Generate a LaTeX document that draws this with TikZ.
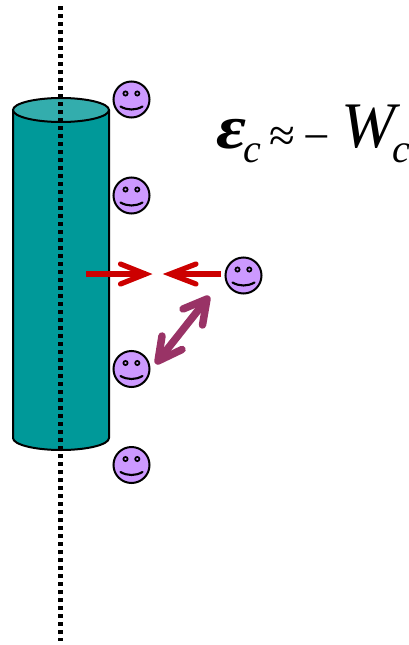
\documentclass[tikz,border=0pt]{standalone}
\usepackage{fontspec}
\usepackage{graphicx}
\setmainfont{Liberation Serif}
\usetikzlibrary{arrows.meta}
\definecolor{teal1}{HTML}{009999}
\definecolor{teal2}{HTML}{33ADAD}
\definecolor{lilac}{HTML}{CC99FF}
\definecolor{redar}{HTML}{CC0000}
\definecolor{plum}{HTML}{993366}
\tikzset{
  cyl/.style={draw=black,line width=2pt,fill=teal1,line join=round},
  cyltop/.style={draw=black,line width=2pt,fill=teal2},
  axis/.style={line width=4.4pt,black,dash pattern=on 4pt off 4pt},
  face/.style={circle,draw=black,line width=2pt,fill=lilac,minimum size=36pt,inner sep=0pt,outer sep=0pt},
  eye/.style={draw=black,line width=1.7pt,fill=lilac},
  smile/.style={draw=black,line width=2.1pt,line cap=round},
  redarrow/.style={redar,line width=5.2pt},
  redbarb/.style={redar,line width=5.2pt,line cap=round,line join=miter},
  plumarrow/.style={plum,line width=7.5pt},
  plumbarb/.style={plum,line width=7.5pt,line cap=round,line join=round},
  eqtext/.style={inner sep=0pt,anchor=base west}
}
\newcommand{\smileyface}[3]{%
  \node[face] (#1) at (#2,#3) {};
  \draw[eye] ([shift={(-6pt,6pt)}]#1.center) circle (2.1pt);
  \draw[eye] ([shift={(5.8pt,6pt)}]#1.center) circle (2.1pt);
  \draw[smile] ([shift={(-11pt,-7pt)}]#1.center) .. controls ([shift={(-4pt,-11pt)}]#1.center) and ([shift={(4pt,-11pt)}]#1.center) .. ([shift={(11pt,-7pt)}]#1.center);
}
\begin{document}
\begin{tikzpicture}[x=1pt,y=-1pt]
\useasboundingbox (0,0) rectangle (409,645);
% cylinder
\draw[cyl] (13,110) -- (13,438) .. controls (13,444.6) and (34.5,450) .. (61,450) .. controls (87.5,450) and (109,444.6) .. (109,438) -- (109,110) -- cycle;
\draw[cyltop] (13,110) .. controls (13,103.4) and (34.5,98) .. (61,98) .. controls (87.5,98) and (109,103.4) .. (109,110) .. controls (109,116.6) and (87.5,122) .. (61,122) .. controls (34.5,122) and (13,116.6) .. (13,110) -- cycle;
% axis
\coordinate (axtop) at (60.5,6);
\coordinate (axbot) at (60.5,641);
\draw[axis] (axtop) -- (axbot);
% faces
\smileyface{f1}{131.5}{99.5}
\smileyface{f2}{131.5}{195.5}
\smileyface{f3}{243.5}{275.5}
\smileyface{f4}{131.5}{369}
\smileyface{f5}{131.5}{465}
% red arrows
\coordinate (ra) at (86,274);
\coordinate (rat) at (145.5,274);
\coordinate (rb) at (221,274);
\coordinate (rbt) at (170,274);
\draw[redarrow] (ra) -- (rat);
\draw[redbarb] (120.5,264) -- (rat) -- (120.5,284);
\draw[redarrow] (rb) -- (rbt);
\draw[redbarb] (196,264) -- (rbt) -- (196,284);
% plum arrow
\coordinate (pa) at (207,299);
\coordinate (pb) at (158,361);
\draw[plumarrow] (pa) -- (pb);
\draw[plumbarb] (183,309) -- (pa) -- (202.5,325);
\draw[plumbarb] (162,336) -- (pb) -- (182,349.5);
% equation
\node[eqtext] (eps) at (216,148) {\scalebox{1.18}[1]{\fontsize{62}{62}\selectfont\bfseries\itshape ε}};
\node[eqtext] (c1) at (243,162) {\fontsize{40}{40}\selectfont\itshape c};
\node[eqtext] (apx) at (269,151) {\fontsize{47}{47}\selectfont ≈};
\node[eqtext] (mn) at (303,152) {\fontsize{47}{47}\selectfont −};
\node[eqtext] (W) at (341,147) {\fontsize{65}{65}\selectfont\itshape W};
\node[eqtext] (c2) at (392,162) {\fontsize{40}{40}\selectfont\itshape c};
\end{tikzpicture}
\end{document}
